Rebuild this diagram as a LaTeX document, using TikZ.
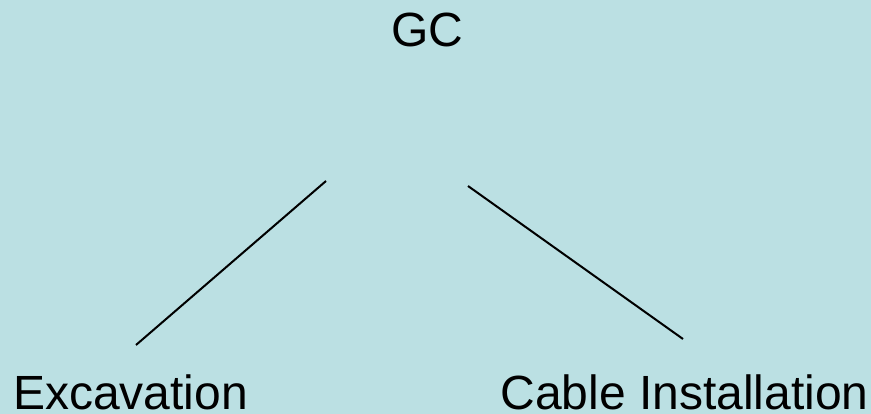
\documentclass[tikz,border=0pt]{standalone}
\usepackage{fontspec}
\setmainfont{Liberation Sans}
\definecolor{bgblue}{HTML}{BBE0E3}
\tikzset{
  lbl/.style={inner sep=0pt, outer sep=0pt, anchor=base west, text depth=0pt, font=\fontsize{48}{56}\selectfont, text=black},
  conn/.style={draw=black, line width=2pt}
}
\begin{document}
\begin{tikzpicture}[x=1pt, y=-1pt]
  \fill[bgblue] (0,0) rectangle (871,414);
  \useasboundingbox (0,0) rectangle (871,414);
  \node[lbl] (gc) at (391,46.5) {GC};
  \node[lbl] (exc) at (13,409.5) {Excavation};
  \node[lbl] (cab) at (500.5,409.5) {Cable Installation};
  \coordinate (l1) at (326,181);
  \coordinate (l2) at (136,345);
  \coordinate (r1) at (468,186);
  \coordinate (r2) at (683,339);
  \draw[conn] (l1) -- (l2);
  \draw[conn] (r1) -- (r2);
\end{tikzpicture}
\end{document}
